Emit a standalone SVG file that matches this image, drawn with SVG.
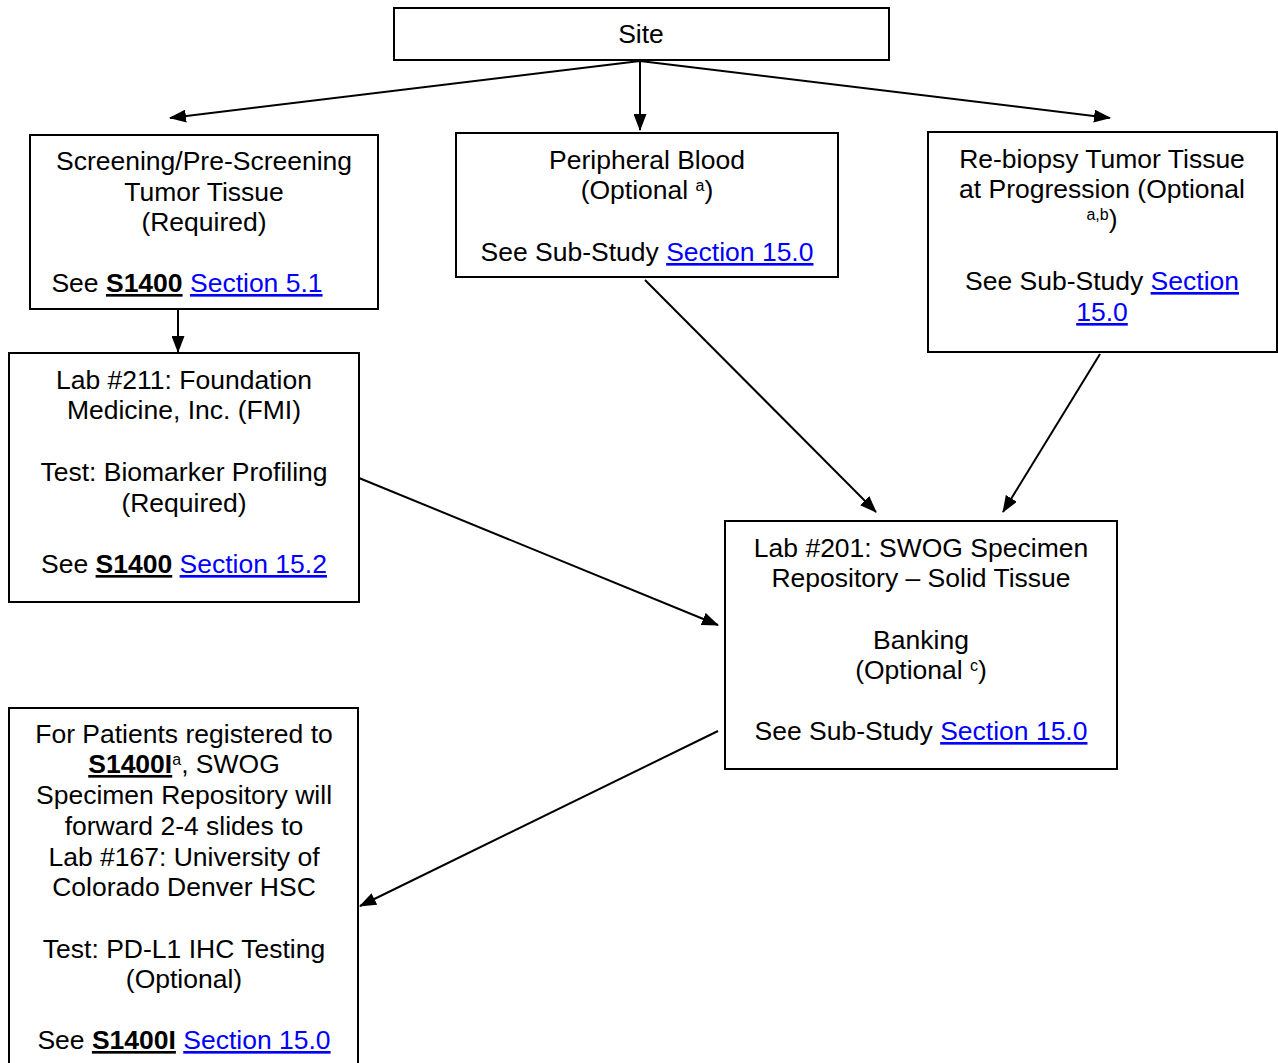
<svg xmlns="http://www.w3.org/2000/svg" width="1278" height="1063" viewBox="0 0 1278 1063">
<style>
.box{fill:#fff;stroke:#000;stroke-width:2}
text{font-family:"Liberation Sans",Arial,sans-serif;font-size:26.5px;fill:#000;text-anchor:middle}
.lk{fill:#0000ff;text-decoration:underline}
.b{font-weight:bold;text-decoration:underline}
.sup{font-size:16px}
.c{stroke:#000;stroke-width:2;fill:none;marker-end:url(#ah)}
</style>
<defs>
<marker id="ah" viewBox="0 0 17 13" refX="16" refY="6.5" markerWidth="17" markerHeight="13" markerUnits="userSpaceOnUse" orient="auto">
<path d="M0,0 L17,6.5 L0,13 Z" fill="#000"/>
</marker>
</defs>
<g id="connectors">
<line class="c" x1="640" y1="61" x2="170" y2="118"/>
<line class="c" x1="640" y1="61" x2="640" y2="130"/>
<line class="c" x1="640" y1="61" x2="1110" y2="118"/>
<line class="c" x1="178" y1="310" x2="178" y2="352"/>
<line class="c" x1="645" y1="280" x2="876" y2="512"/>
<line class="c" x1="1100" y1="354" x2="1003" y2="512"/>
<line class="c" x1="359" y1="478" x2="718" y2="625"/>
<line class="c" x1="718" y1="731" x2="360" y2="906"/>
</g>
<g id="site">
<rect class="box" x="394" y="8" width="495" height="52"/>
<text x="641" y="43">Site</text>
</g>
<g id="screening">
<rect class="box" x="30" y="135" width="348" height="174"/>
<text x="204" y="170">Screening/Pre-Screening</text>
<text x="204" y="201">Tumor Tissue</text>
<text x="204" y="231">(Required)</text>
<text x="187" y="292">See <tspan class="b">S1400</tspan> <tspan class="lk">Section 5.1</tspan></text>
</g>
<g id="peripheral">
<rect class="box" x="456" y="133" width="382" height="144"/>
<text x="647" y="169">Peripheral Blood</text>
<text x="647" y="199">(Optional <tspan class="sup" dy="-8">a</tspan><tspan dy="8">)</tspan></text>
<text x="647" y="261">See Sub-Study <tspan class="lk">Section 15.0</tspan></text>
</g>
<g id="rebiopsy">
<rect class="box" x="928" y="132" width="349" height="220"/>
<text x="1102" y="168">Re-biopsy Tumor Tissue</text>
<text x="1102" y="198">at Progression (Optional</text>
<text x="1102" y="228"><tspan class="sup" dy="-8">a,b</tspan><tspan dy="8">)</tspan></text>
<text x="1102" y="290">See Sub-Study <tspan class="lk">Section</tspan></text>
<text x="1102" y="321" class="lk">15.0</text>
</g>
<g id="lab211">
<rect class="box" x="9" y="353" width="350" height="249"/>
<text x="184" y="389">Lab #211: Foundation</text>
<text x="184" y="419">Medicine, Inc. (FMI)</text>
<text x="184" y="481">Test: Biomarker Profiling</text>
<text x="184" y="512">(Required)</text>
<text x="184" y="573">See <tspan class="b">S1400</tspan> <tspan class="lk">Section 15.2</tspan></text>
</g>
<g id="lab201">
<rect class="box" x="725" y="521" width="392" height="248"/>
<text x="921" y="557">Lab #201: SWOG Specimen</text>
<text x="921" y="587">Repository – Solid Tissue</text>
<text x="921" y="649">Banking</text>
<text x="921" y="679">(Optional <tspan class="sup" dy="-8">c</tspan><tspan dy="8">)</tspan></text>
<text x="921" y="740">See Sub-Study <tspan class="lk">Section 15.0</tspan></text>
</g>
<g id="lab167">
<rect class="box" x="9" y="708" width="349" height="370"/>
<text x="184" y="743">For Patients registered to</text>
<text x="184" y="773"><tspan class="b">S1400I</tspan><tspan class="sup" dy="-8">a</tspan><tspan dy="8">, SWOG</tspan></text>
<text x="184" y="804">Specimen Repository will</text>
<text x="184" y="835">forward 2-4 slides to</text>
<text x="184" y="866">Lab #167: University of</text>
<text x="184" y="896">Colorado Denver HSC</text>
<text x="184" y="958">Test: PD-L1 IHC Testing</text>
<text x="184" y="988">(Optional)</text>
<text x="184" y="1049">See <tspan class="b">S1400I</tspan> <tspan class="lk">Section 15.0</tspan></text>
</g>
</svg>
